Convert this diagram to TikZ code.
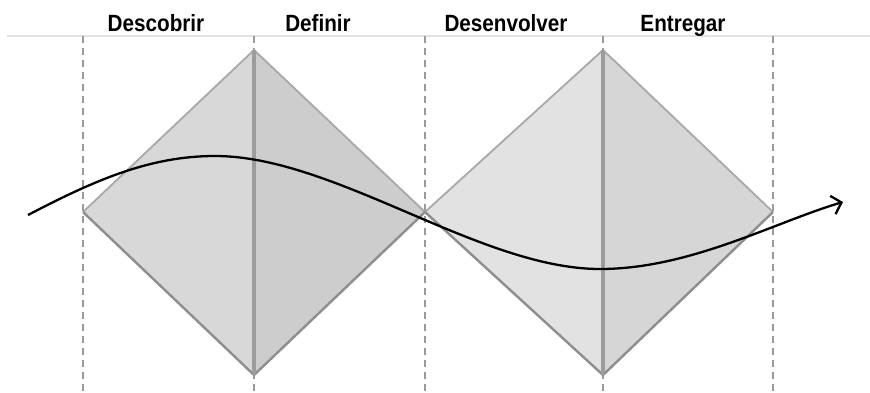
\documentclass[tikz,border=0pt]{standalone}
\usepackage{fontspec}
\setmainfont{Liberation Sans}
\usetikzlibrary{arrows.meta}
\definecolor{guide}{HTML}{9A9A9A}
\definecolor{topline}{HTML}{E2E2E2}
\definecolor{dAleft}{HTML}{D8D8D8}
\definecolor{dAright}{HTML}{CDCDCD}
\definecolor{dBleft}{HTML}{E2E2E2}
\definecolor{dBright}{HTML}{D6D6D6}
\definecolor{edgeup}{HTML}{A8A8A8}
\definecolor{edgelow}{HTML}{8E8E8E}
\definecolor{axis}{HTML}{9C9C9C}
\tikzset{
  guideline/.style={draw=guide, line width=2.4pt, dash pattern=on 7pt off 5pt},
  phase/.style={font=\fontsize{23.5}{28}\selectfont\bfseries, xscale=0.88, anchor=base, inner sep=0pt},
  upedge/.style={draw=edgeup, line width=1.8pt},
  lowedge/.style={draw=edgelow, line width=2.4pt},
  midaxis/.style={draw=axis, line width=3.2pt},
  flow/.style={draw=black, line width=2.3pt, -{Straight Barb[length=9pt, width=19pt, line width=2.3pt]}}
}
\begin{document}
\begin{tikzpicture}[x=1pt, y=-1pt]
\useasboundingbox (0,0) rectangle (870,392);
% top rule
\draw[topline, line width=1.2pt] (7,36) -- (870,36);
% labels
\node[phase] (t1) at (156,31) {Descobrir};
\node[phase] (t2) at (318,31) {Definir};
\node[phase] (t3) at (506,31) {Desenvolver};
\node[phase] (t4) at (683,31) {Entregar};
% diamond 1
\coordinate (aL) at (83,212); \coordinate (aT) at (254,50);
\coordinate (aR) at (425,212); \coordinate (aB) at (254,375);
% diamond 2
\coordinate (bL) at (425,212); \coordinate (bT) at (603,50);
\coordinate (bR) at (773,212); \coordinate (bB) at (603,375);
\fill[dAleft] (aL) -- (aT) -- (aB) -- cycle;
\fill[dAright] (aT) -- (aR) -- (aB) -- cycle;
\fill[dBleft] (bL) -- (bT) -- (bB) -- cycle;
\fill[dBright] (bT) -- (bR) -- (bB) -- cycle;
% dashed guides
\foreach \x/\n in {83/g1,254/g2,425/g3,603/g4,773/g5}{
  \coordinate (\n t) at (\x,36); \coordinate (\n b) at (\x,392);
  \draw[guideline] (\n t) -- (\n b);
}
% edges
\draw[upedge] (aL) -- (aT) -- (aR);
\draw[upedge] (bL) -- (bT) -- (bR);
\draw[lowedge] (aL) -- (aB) -- (aR);
\draw[lowedge] (bL) -- (bB) -- (bR);
\draw[midaxis] (aT) -- (aB);
\draw[midaxis] (bT) -- (bB);
% flow curve
\coordinate (s) at (28,215);
\coordinate (p) at (215,156);
\coordinate (q) at (600,269);
\coordinate (e) at (843,202);
\draw[flow] (s) .. controls (95,180) and (150,156) .. (p)
  .. controls (335,156) and (480,269) .. (q)
  .. controls (690,269) and (775,222) .. (e);
\end{tikzpicture}
\end{document}
